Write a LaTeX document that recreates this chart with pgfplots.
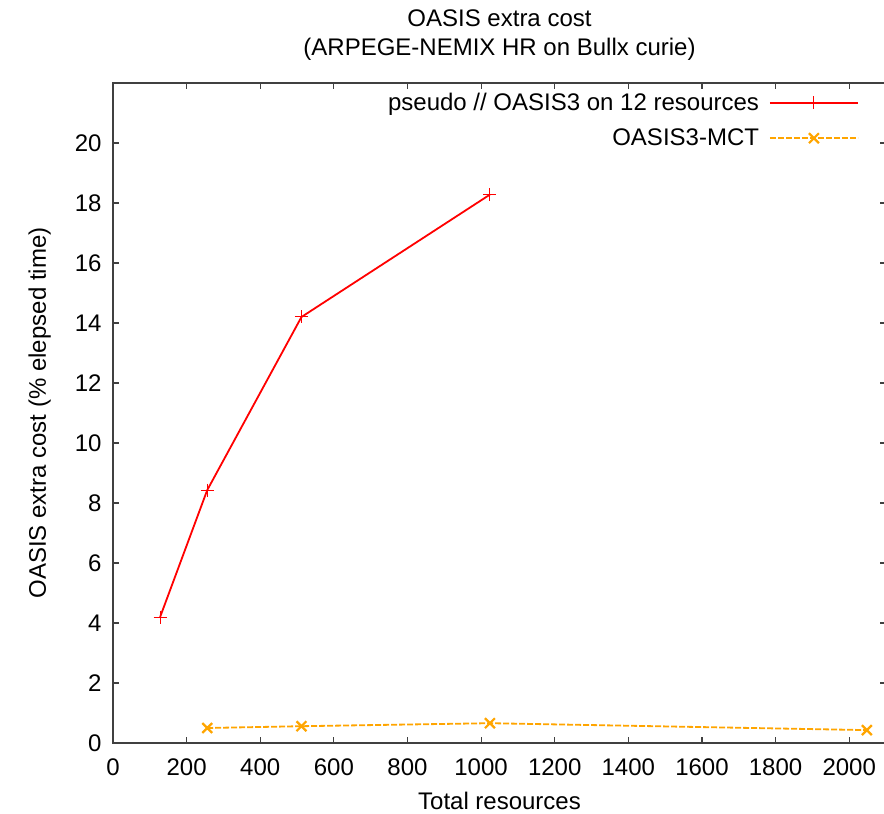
\documentclass[border=0pt]{standalone}
\usepackage{fontspec}
\setmainfont{Liberation Sans}
\usepackage{pgfplots}
\pgfplotsset{compat=1.18}
\definecolor{axgray}{HTML}{404040}
\definecolor{gporange}{HTML}{FFA500}
\begin{document}
\begin{tikzpicture}
\begin{axis}[name=ax, scale only axis, width=773pt, height=660pt,
  xmin=0, xmax=2100, ymin=0, ymax=22,
  xtick={0,200,...,2000}, ytick={0,2,...,20},
  tick align=inside, major tick length=6pt,
  axis line style={draw=axgray, line width=1.2pt},
  every tick/.style={axgray, line width=1.2pt},
  font=\fontsize{24}{29}\selectfont,
  tick label style={font=\fontsize{24}{29}\selectfont},
  xticklabel style={yshift=-12pt},
  yticklabel style={xshift=-8pt},
  /pgf/number format/assume math mode=true,
  /pgf/number format/1000 sep={},
  title={OASIS extra cost\\(ARPEGE-NEMIX HR on Bullx curie)},
  title style={align=center, font=\fontsize{24}{29}\selectfont, at={(0.5,1)}, anchor=south, yshift=16pt, inner sep=0pt},
  xlabel={Total resources},
  xlabel style={inner sep=0pt, yshift=-13pt},
  ylabel={OASIS extra cost (\% elepsed time)},
  ylabel style={yshift=17pt},
  legend style={draw=none, fill=none, at={(1,1)}, anchor=north east, xshift=-24pt, yshift=-6pt,
    font=\fontsize{24}{29}\selectfont, row sep=13pt, column sep=8pt},
  legend cell align=right, legend plot pos=right,
  legend image code/.code={\draw[mark repeat=2,mark phase=2] plot coordinates {(0pt,0pt) (44pt,0pt) (88pt,0pt)};},
]
\addplot[red, line width=1.8pt, mark=+, mark size=6.5pt, mark options={line width=1pt, solid}]
  coordinates {(128,4.2) (256,8.43) (512,14.2) (1024,18.28)};
\addlegendentry{pseudo // OASIS3 on 12 resources}
\addplot[gporange, line width=1.8pt, dash pattern=on 6pt off 2pt, mark=x, mark size=7pt, mark options={line width=2.2pt, solid}]
  coordinates {(256,0.5) (512,0.56) (1024,0.66) (2048,0.43)};
\addlegendentry{OASIS3-MCT}
\end{axis}
\pgfresetboundingbox
\path[use as bounding box] ([xshift=-113pt,yshift=-70pt]ax.south west) rectangle ([xshift=-2pt,yshift=83pt]ax.north east);
\end{tikzpicture}
\end{document}
